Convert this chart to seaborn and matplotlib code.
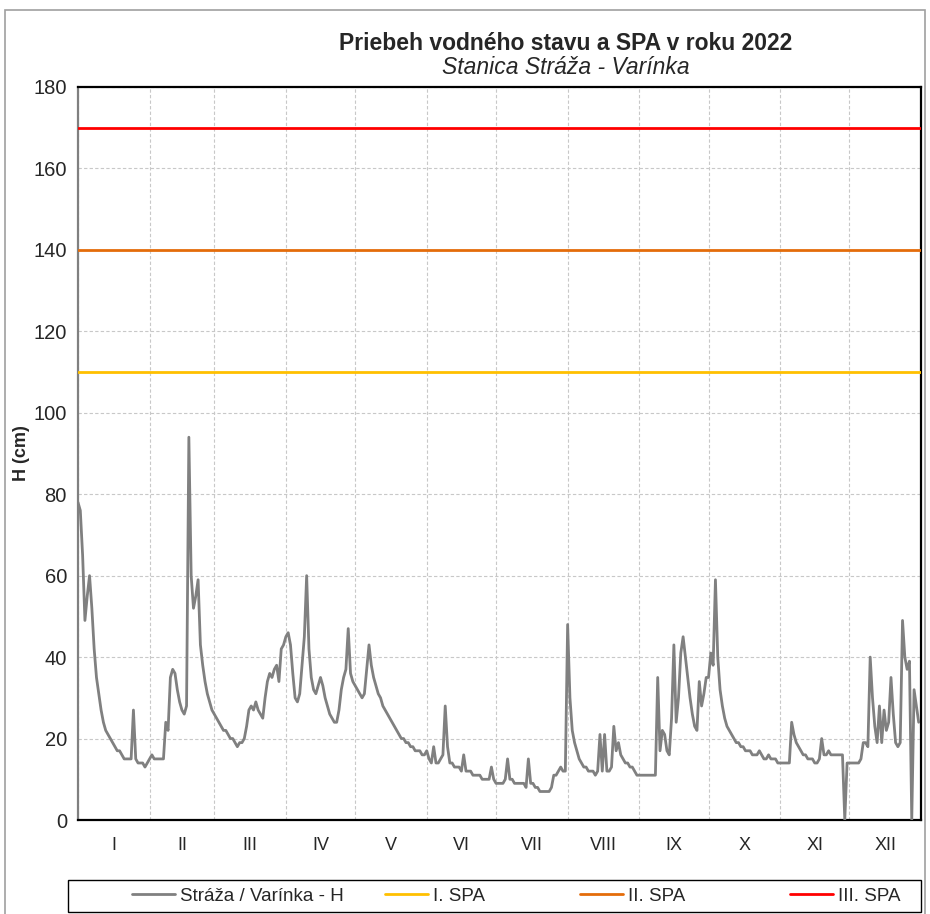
import numpy as np
import pandas as pd
import matplotlib
matplotlib.use("Agg")
import matplotlib.pyplot as plt
from matplotlib.patches import Rectangle
import seaborn as sns

# Daily water level H (cm), Stráža - Varínka, 2022
jan = [78, 76, 65, 49, 55, 60, 52, 42, 35, 31, 27, 24, 22, 21, 20, 19, 18, 17, 17, 16,
       15, 15, 15, 15, 27, 15, 14, 14, 14, 13, 14]
feb = [15, 16, 15, 15, 15, 15, 15, 24, 22, 35, 37, 36, 32, 29, 27, 26, 28, 94, 60, 52,
       55, 59, 43, 38, 34, 31, 29, 27]
mar = [26, 25, 24, 23, 22, 22, 21, 20, 20, 19, 18, 19, 19, 20, 23, 27, 28, 27, 29, 27,
       26, 25, 30, 34, 36, 35, 37, 38, 34, 42, 43]
apr = [45, 46, 43, 36, 30, 29, 31, 38, 45, 60, 42, 35, 32, 31, 33, 35, 33, 30, 28, 26,
       25, 24, 24, 27, 32, 35, 37, 47, 36, 34]
may = [33, 32, 31, 30, 31, 37, 43, 38, 35, 33, 31, 30, 28, 27, 26, 25, 24, 23, 22, 21,
       20, 20, 19, 19, 18, 18, 17, 17, 17, 16, 16]
jun = [17, 15, 14, 18, 14, 14, 15, 16, 28, 18, 14, 14, 13, 13, 13, 12, 16, 12, 12, 12,
       11, 11, 11, 11, 10, 10, 10, 10, 13, 10]
jul = [9, 9, 9, 9, 10, 15, 10, 10, 9, 9, 9, 9, 9, 8, 15, 9, 9, 8, 8, 7,
       7, 7, 7, 7, 8, 11, 11, 12, 13, 12, 12]
aug = [48, 30, 22, 19, 17, 15, 14, 13, 13, 12, 12, 12, 11, 12, 21, 12, 21, 12, 12, 13,
       23, 17, 19, 16, 15, 14, 14, 13, 13, 12, 11]
sep = [11, 11, 11, 11, 11, 11, 11, 11, 35, 17, 22, 21, 17, 16, 25, 43, 24, 30, 41, 45,
       40, 35, 30, 26, 23, 22, 34, 28, 31, 35]
oct_ = [35, 41, 38, 59, 40, 32, 28, 25, 23, 22, 21, 20, 19, 19, 18, 18, 17, 17, 17, 16,
        16, 16, 17, 16, 15, 15, 16, 15, 15, 15, 14]
nov = [14, 14, 14, 14, 14, 24, 21, 19, 18, 17, 16, 16, 15, 15, 15, 14, 14, 15, 20, 16,
       16, 17, 16, 16, 16, 16, 16, 16, 0, 14]
dec = [14, 14, 14, 14, 14, 15, 19, 19, 18, 40, 30, 23, 19, 28, 19, 27, 22, 24, 35, 26,
       19, 18, 19, 49, 40, 37, 39, 0, 32, 28, 24]

level = jan + feb + mar + apr + may + jun + jul + aug + sep + oct_ + nov + dec

series_name = "Stráža / Varínka - H"
spa_levels = [110, 140, 170]
spa_names = ["I. SPA", "II. SPA", "III. SPA"]
spa_colors = ["#FFC000", "#E46C0A", "#FF0000"]
month_labels = ["I", "II", "III", "IV", "V", "VI", "VII", "VIII", "IX", "X", "XI", "XII"]
y_ticks = list(range(0, 181, 20))

sns.set_style("white")
plt.rcParams["font.family"] = ["Liberation Sans", "DejaVu Sans"]

W, H = 930, 914
fig = plt.figure(figsize=(W / 100, H / 100), dpi=100)
ax = fig.add_axes([78 / W, 94 / H, 843 / W, 733 / H])

start = pd.Timestamp("2022-01-01")
end = pd.Timestamp("2023-01-01")
dates = pd.date_range(start, periods=len(level), freq="D")
df = pd.DataFrame({"date": dates, "H": level})

sns.lineplot(data=df, x="date", y="H", ax=ax, color="#808080", lw=2,
             label=series_name, zorder=3)
for v, n, c in zip(spa_levels, spa_names, spa_colors):
    sdf = pd.DataFrame({"date": [start, end], "H": [v, v]})
    sns.lineplot(data=sdf, x="date", y="H", ax=ax, color=c, lw=2, label=n, zorder=3)

handles, labels = ax.get_legend_handles_labels()
if ax.get_legend() is not None:
    ax.get_legend().remove()

ax.set_xlim(start, end)
ax.set_ylim(0, 180)
ax.set_yticks(y_ticks)
ax.set_yticklabels([str(t) for t in y_ticks], fontsize=14.5)

month_starts = pd.date_range(start, periods=13, freq="MS")
mids = [month_starts[i] + (month_starts[i + 1] - month_starts[i]) / 2 for i in range(12)]
ax.set_xticks(month_starts)
ax.set_xticklabels([""] * 13)
ax.set_xticks(mids, minor=True)
ax.set_xticklabels(month_labels, minor=True, fontsize=13)
ax.tick_params(axis="x", which="both", length=0, pad=12)
ax.tick_params(axis="y", length=5, width=1, color="#808080", direction="out", pad=3)

ax.set_xlabel("")
ax.set_ylabel("")
ax.grid(True, which="major", color="#C8C8C8", linestyle=(0, (3, 2)), lw=0.8)
ax.set_axisbelow(True)

for side in ["top", "right", "bottom"]:
    ax.spines[side].set_color("black")
    ax.spines[side].set_linewidth(1.6)
ax.spines["left"].set_color("#808080")
ax.spines["left"].set_linewidth(1.6)

fig.text(566 / W, 1 - 43 / H, "Priebeh vodného stavu a SPA v roku 2022",
         ha="center", va="center", fontsize=16.5, fontweight="bold")
fig.text(566 / W, 1 - 67 / H, "Stanica Stráža - Varínka",
         ha="center", va="center", fontsize=16.5, style="italic")
fig.text(22 / W, 1 - 453 / H, "H (cm)", ha="center", va="center",
         rotation=90, fontsize=13, fontweight="bold")

# legend: framed box with entries placed like the reference
fig.patches.append(Rectangle((68 / W, 2 / H), 853 / W, 32 / H,
                             transform=fig.transFigure, fill=False,
                             edgecolor="black", lw=1.0))
entry_x = [132, 385, 580, 790]
for hnd, lab, ex in zip(handles, labels, entry_x):
    fig.legend([hnd], [lab], loc="center left", bbox_to_anchor=(ex / W, 18 / H),
               frameon=False, fontsize=13.5, handlelength=2.3,
               handletextpad=0.25, borderpad=0, borderaxespad=0)

fig.patches.append(Rectangle((5 / W, -0.02), 920 / W, 1.02 - 10 / H,
                             transform=fig.transFigure, fill=False,
                             edgecolor="#A0A0A0", lw=1.2))

fig.savefig("out.png", dpi=100)
